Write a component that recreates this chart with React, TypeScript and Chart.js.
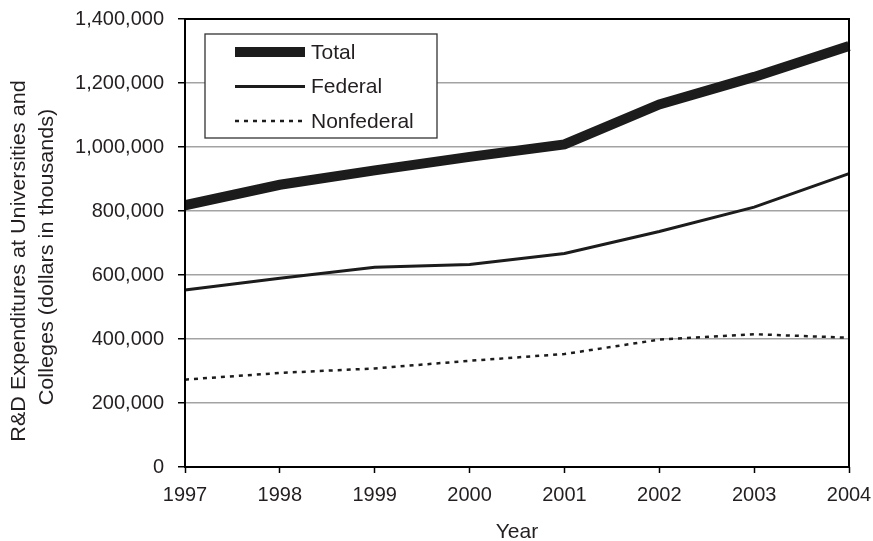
import React, { useEffect, useRef } from "react";
import { Chart, registerables } from "chart.js";

Chart.register(...registerables);

const years = ["1997", "1998", "1999", "2000", "2001", "2002", "2003", "2004"];
const totalValues = [818000, 882000, 927000, 969000, 1008000, 1133000, 1219000, 1316000];
const federalValues = [553000, 590000, 624000, 633000, 667000, 736000, 812000, 917000];
const nonfederalValues = [273000, 294000, 308000, 332000, 353000, 398000, 415000, 404000];
const seriesNames = ["Total", "Federal", "Nonfederal"];
const yMin = 0;
const yMax = 1400000;
const yStep = 200000;
const yTitle = ["R&D Expenditures at Universities and", "Colleges (dollars in thousands)"];
const xTitle = "Year";

const FONT = '"Liberation Sans", Arial, Helvetica, sans-serif';
const TEXT = "#231f20";
const INK = "#1c1c1c";

const frameLegendPlugin = {
  id: "frameLegend",
  afterDatasetsDraw(chart: any) {
    const { ctx, chartArea } = chart;
    ctx.save();
    ctx.strokeStyle = "#000";
    ctx.lineWidth = 2;
    ctx.strokeRect(chartArea.left, chartArea.top, chartArea.right - chartArea.left, chartArea.bottom - chartArea.top);
    ctx.restore();
  },
  afterDraw(chart: any) {
    const { ctx, chartArea } = chart;
    // legend box
    const x = chartArea.left + 20;
    const y = chartArea.top + 15;
    const w = 232;
    const h = 104;
    ctx.save();
    ctx.fillStyle = "#fff";
    ctx.fillRect(x, y, w, h);
    ctx.strokeStyle = "#333";
    ctx.lineWidth = 1.3;
    ctx.strokeRect(x, y, w, h);
    chart.data.datasets.forEach((ds: any, i: number) => {
      const cy = y + 18 + i * 34.5;
      ctx.beginPath();
      ctx.setLineDash(ds.borderDash || []);
      ctx.lineWidth = ds.borderWidth;
      ctx.strokeStyle = ds.borderColor;
      ctx.lineCap = "butt";
      ctx.moveTo(x + 30, cy);
      ctx.lineTo(x + 100, cy);
      ctx.stroke();
      ctx.setLineDash([]);
      ctx.fillStyle = TEXT;
      ctx.font = `21px ${FONT}`;
      ctx.textBaseline = "middle";
      ctx.textAlign = "left";
      ctx.fillText(ds.label, x + 106, cy + 1);
    });
    ctx.restore();

    // y axis title (two lines, rotated)
    const baselines = [24.5, 53];
    const centers = [261, 257];
    ctx.save();
    ctx.fillStyle = TEXT;
    ctx.font = `20px ${FONT}`;
    ctx.textAlign = "center";
    ctx.textBaseline = "alphabetic";
    yTitle.forEach((line, i) => {
      ctx.save();
      ctx.translate(baselines[i], centers[i]);
      ctx.rotate(-Math.PI / 2);
      ctx.scale(1.08, 1);
      ctx.fillText(line, 0, 0);
      ctx.restore();
    });
    ctx.restore();
  },
};

export default function App() {
  const ref = useRef<HTMLCanvasElement | null>(null);

  useEffect(() => {
    if (!ref.current) return;
    const chart = new Chart(ref.current, {
      type: "line",
      data: {
        labels: years,
        datasets: [
          {
            label: seriesNames[0],
            data: totalValues,
            borderColor: INK,
            borderWidth: 10,
            pointRadius: 0,
            tension: 0,
          },
          {
            label: seriesNames[1],
            data: federalValues,
            borderColor: INK,
            borderWidth: 3,
            pointRadius: 0,
            tension: 0,
          },
          {
            label: seriesNames[2],
            data: nonfederalValues,
            borderColor: INK,
            borderWidth: 2.5,
            borderDash: [4, 5],
            pointRadius: 0,
            tension: 0,
          },
        ],
      },
      options: {
        responsive: false,
        animation: false,
        devicePixelRatio: 1,
        layout: { padding: 0 },
        plugins: {
          legend: { display: false },
          tooltip: { enabled: false },
        },
        scales: {
          x: {
            offset: false,
            border: { display: false },
            grid: {
              display: true,
              drawOnChartArea: false,
              drawTicks: true,
              tickLength: 6,
              tickColor: "#000",
              tickWidth: 1.5,
            },
            ticks: {
              color: TEXT,
              font: { family: FONT, size: 20 },
              padding: 10,
              maxRotation: 0,
              autoSkip: false,
            },
            title: {
              display: true,
              text: xTitle,
              color: TEXT,
              font: { family: FONT, size: 21, lineHeight: 0.8 },
              padding: { top: 0, bottom: 0 },
            },
            afterFit: (scale: any) => {
              scale.height = 74;
              scale.paddingLeft = 0;
              scale.paddingRight = 24;
            },
          },
          y: {
            min: yMin,
            max: yMax,
            border: { display: false },
            grid: {
              color: "#a3a3a3",
              lineWidth: 1.5,
              drawTicks: true,
              tickLength: 7,
              tickColor: "#000",
              tickWidth: 1.5,
            },
            ticks: {
              stepSize: yStep,
              color: TEXT,
              font: { family: FONT, size: 20 },
              padding: 14,
              callback: (v: any) => Number(v).toLocaleString("en-US"),
            },
            title: { display: false },
            afterFit: (scale: any) => {
              scale.width = 185;
              scale.paddingTop = 19;
              scale.paddingBottom = 0;
            },
          },
        },
      },
      plugins: [frameLegendPlugin],
    });
    return () => chart.destroy();
  }, []);

  return (
    <div style={{ position: "fixed", left: 0, top: 0, width: 873, height: 541, background: "#fff" }}>
      <canvas ref={ref} width={873} height={541} style={{ width: 873, height: 541, display: "block" }} />
    </div>
  );
}
